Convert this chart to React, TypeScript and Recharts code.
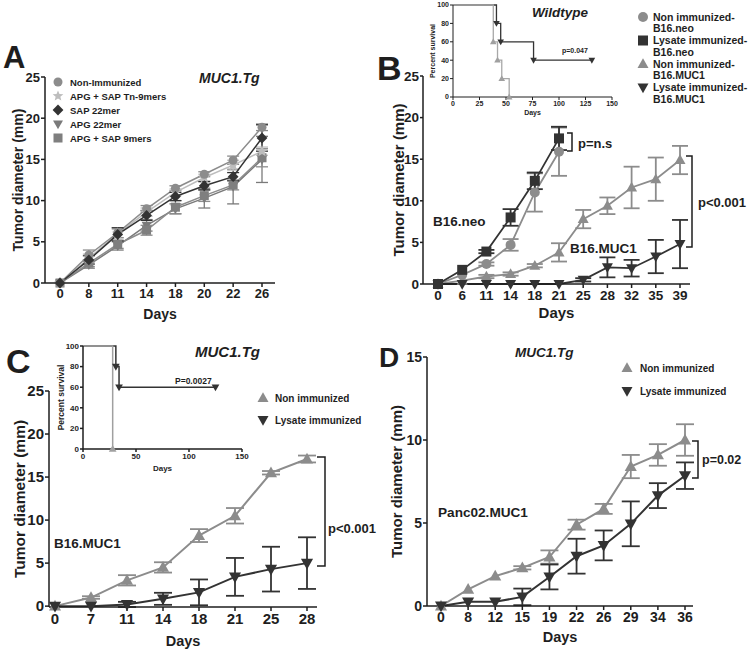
import React from "react";
import { LineChart, Line, XAxis, YAxis, ErrorBar } from "recharts";

const FONT = "'Liberation Sans', Arial, Helvetica, sans-serif";
const INK = "#1e1e1e";
const GRAY = "#8c8c8c";
const MID = "#7a7a7a";
const LIGHT = "#bdbdbd";
const DARK = "#333333";

// ---- Panel A: MUC1.Tg, peptide vaccines
const daysA = ["0", "8", "11", "14", "18", "20", "22", "26"];
const nonImmA = [0, 3.4, 6.1, 9.0, 11.5, 13.2, 14.9, 18.9];
const nonImmAErr = [null, 0.6, 0.6, 0.4, 0.3, 0.3, 0.5, 0.4];
const tn9A = [0, 3.0, 6.0, 8.6, 11.0, 12.8, 14.3, 16.0];
const tn9AErr = [null, 0.5, 0.5, 0.5, 0.4, 0.4, 0.6, 0.5];
const sap22A = [0, 2.8, 5.9, 8.2, 10.5, 11.8, 12.9, 17.6];
const sap22AErr = [null, 0.5, 0.8, 0.6, 0.5, 0.5, 0.5, 1.6];
const apg22A = [0, 2.2, 4.5, 7.0, 9.0, 10.3, 11.7, 15.0];
const apg22AErr = [null, 0.4, 0.5, 0.7, 0.6, 1.2, 2.1, 2.8];
const apg9A = [0, 2.4, 4.7, 6.4, 9.2, 10.6, 11.9, 15.2];
const apg9AErr = [null, 0.4, 0.5, 0.6, 0.8, 0.7, 0.6, 1.1];

// ---- Panel B: wildtype, B16.neo vs B16.MUC1
const daysB = ["0", "6", "11", "14", "18", "21", "25", "28", "32", "35", "39"];
const neoNonB = [0, 1.1, 2.4, 4.7, 11.0, 15.9, null, null, null, null, null];
const neoNonBErr = [null, null, 0.2, 0.7, 2.3, 2.9, null, null, null, null, null];
const neoLysB = [0, 1.7, 3.9, 8.0, 12.4, 17.5, null, null, null, null, null];
const neoLysBErr = [null, null, 0.2, 1.0, 1.0, 1.4, null, null, null, null, null];
const mucNonB = [0, 0.4, 0.9, 1.2, 2.2, 3.8, 7.8, 9.4, 11.6, 12.6, 14.9];
const mucNonBErr = [null, null, 0.2, 0.2, 0.2, 1.1, 1.1, 1.0, 2.5, 2.6, 1.7];
const mucLysB = [0, 0, 0, 0, 0, 0, 0.5, 2.0, 1.9, 3.3, 4.8];
const mucLysBErr = [null, null, null, null, null, null, 0.2, 1.2, 1.0, 2.0, 2.9];

// survival inset B
const survNonBDays = [0, 38, 42, 46, 53];
const survNonB = [100, 60, 40, 20, 0];
const survLysBDays = [0, 41, 45, 76, 131];
const survLysB = [100, 80, 60, 40, 40];

// ---- Panel C: MUC1.Tg, B16.MUC1
const daysC = ["0", "7", "11", "14", "18", "21", "25", "28"];
const nonC = [0, 1.0, 3.0, 4.5, 8.2, 10.5, 15.5, 17.1];
const nonCErr = [null, 0.15, 0.6, 0.6, 0.75, 0.9, 0.2, 0.4];
const lysC = [0, 0, 0.2, 0.85, 1.6, 3.4, 4.3, 5.0];
const lysCErr = [null, null, 0.3, 0.7, 1.5, 2.2, 2.6, 3.0];

// survival inset C
const survNonCDays = [0, 28];
const survNonC = [100, 0];
const survLysCDays = [0, 31, 34, 125];
const survLysC = [100, 80, 60, 60];

// ---- Panel D: MUC1.Tg, Panc02.MUC1
const daysD = ["0", "8", "12", "15", "19", "22", "26", "29", "34", "36"];
const nonD = [0, 1.0, 1.8, 2.3, 2.95, 4.9, 5.85, 8.4, 9.1, 10.0];
const nonDErr = [null, null, null, 0.1, 0.4, 0.3, 0.3, 0.7, 0.65, 0.95];
const lysD = [0, 0.25, 0.25, 0.55, 1.75, 3.0, 3.65, 4.95, 6.65, 7.85];
const lysDErr = [null, null, null, 0.5, 0.75, 1.05, 0.9, 1.35, 0.75, 0.8];

const tableA = daysA.map((day, i) => ({
  day,
  nonImm: nonImmA[i], nonImmErr: nonImmAErr[i],
  tn9: tn9A[i], tn9Err: tn9AErr[i],
  sap22: sap22A[i], sap22Err: sap22AErr[i],
  apg22: apg22A[i], apg22Err: apg22AErr[i],
  apg9: apg9A[i], apg9Err: apg9AErr[i],
}));

const tableB = daysB.map((day, i) => ({
  day,
  neoNon: neoNonB[i], neoNonErr: neoNonBErr[i],
  neoLys: neoLysB[i], neoLysErr: neoLysBErr[i],
  mucNon: mucNonB[i], mucNonErr: mucNonBErr[i],
  mucLys: mucLysB[i], mucLysErr: mucLysBErr[i],
}));

const tableC = daysC.map((day, i) => ({
  day, non: nonC[i], nonErr: nonCErr[i], lys: lysC[i], lysErr: lysCErr[i],
}));

const tableD = daysD.map((day, i) => ({
  day, non: nonD[i], nonErr: nonDErr[i], lys: lysD[i], lysErr: lysDErr[i],
}));

const steps = (xs: number[], ys: number[]) => xs.map((x, i) => ({ x, y: ys[i] }));

function Marker({ shape, cx, cy, size, fill }: any) {
  const r = size / 2;
  if (shape === "circle") return <circle cx={cx} cy={cy} r={r} fill={fill} />;
  if (shape === "square")
    return <rect x={cx - r} y={cy - r} width={size} height={size} fill={fill} />;
  if (shape === "diamond") {
    const d = r * 1.2;
    return <polygon points={`${cx},${cy - d} ${cx + d},${cy} ${cx},${cy + d} ${cx - d},${cy}`} fill={fill} />;
  }
  if (shape === "up")
    return (
      <polygon
        points={`${cx},${cy - r * 1.15} ${cx + r * 1.1},${cy + r * 0.8} ${cx - r * 1.1},${cy + r * 0.8}`}
        fill={fill}
      />
    );
  if (shape === "down")
    return (
      <polygon
        points={`${cx},${cy + r * 1.15} ${cx + r * 1.1},${cy - r * 0.8} ${cx - r * 1.1},${cy - r * 0.8}`}
        fill={fill}
      />
    );
  // star
  const pts: string[] = [];
  for (let k = 0; k < 10; k++) {
    const a = (-90 + k * 36) * (Math.PI / 180);
    const rr = k % 2 === 0 ? r * 1.25 : r * 0.55;
    pts.push(`${cx + rr * Math.cos(a)},${cy + rr * Math.sin(a)}`);
  }
  return <polygon points={pts.join(" ")} fill={fill} />;
}

const dotOf = (shape: string, fill: string, size: number, skipFirst = false) => (props: any) => {
  const { cx, cy, index, value } = props;
  if (cx == null || cy == null || value == null || (skipFirst && index === 0)) {
    return <g key={`d${index}`} />;
  }
  return <Marker key={`d${index}`} shape={shape} cx={cx} cy={cy} size={size} fill={fill} />;
};

const axisLine = { stroke: INK, strokeWidth: 1.5 };
const thinLine = { stroke: INK, strokeWidth: 1 };
const tickStyle = (fs: number) => ({ fill: INK, fontSize: fs, fontWeight: 700, fontFamily: FONT });
const labelStyle = (fs: number) => ({ fill: INK, fontSize: fs, fontWeight: 700, fontFamily: FONT });

const yLabel = (offset: number, fs: number, value = "Tumor diameter (mm)") => ({
  value,
  angle: -90,
  position: "insideLeft" as const,
  offset,
  ...labelStyle(fs),
  style: { textAnchor: "middle" },
});

const xLabel = (offset: number, fs: number) => ({
  value: "Days",
  position: "insideBottom" as const,
  offset,
  ...labelStyle(fs),
});

const box = (left: number, top: number): React.CSSProperties => ({ position: "absolute", left, top });

function PanelA() {
  return (
    <div style={box(0, 60)}>
      <LineChart width={290} height={270} data={tableA} margin={{ top: 17, right: 15, left: 0, bottom: 0 }}>
        <XAxis dataKey="day" interval={0} padding={{ left: 15, right: 13 }} height={47}
          axisLine={axisLine} tickLine={axisLine} tickSize={4} tick={tickStyle(13)} label={xLabel(11, 14)} />
        <YAxis domain={[0, 25]} ticks={[0, 5, 10, 15, 20, 25]} width={45} axisLine={axisLine}
          tickLine={axisLine} tickSize={4} tickMargin={1} tick={tickStyle(13)} label={yLabel(18, 14)} />
        <Line dataKey="apg22" stroke={MID} strokeWidth={1.5} isAnimationActive={false} dot={dotOf("down", MID, 9)}>
          <ErrorBar dataKey="apg22Err" width={6} stroke={MID} strokeWidth={1.3} />
        </Line>
        <Line dataKey="apg9" stroke={GRAY} strokeWidth={1.5} isAnimationActive={false} dot={dotOf("square", "#7f7f7f", 9)}>
          <ErrorBar dataKey="apg9Err" width={6} stroke={GRAY} strokeWidth={1.3} />
        </Line>
        <Line dataKey="tn9" stroke={LIGHT} strokeWidth={1.5} isAnimationActive={false} dot={dotOf("star", LIGHT, 10)}>
          <ErrorBar dataKey="tn9Err" width={6} stroke={LIGHT} strokeWidth={1.3} />
        </Line>
        <Line dataKey="nonImm" stroke={GRAY} strokeWidth={1.5} isAnimationActive={false} dot={dotOf("circle", GRAY, 9)}>
          <ErrorBar dataKey="nonImmErr" width={6} stroke={GRAY} strokeWidth={1.3} />
        </Line>
        <Line dataKey="sap22" stroke={DARK} strokeWidth={1.5} isAnimationActive={false} dot={dotOf("diamond", DARK, 9)}>
          <ErrorBar dataKey="sap22Err" width={6} stroke={DARK} strokeWidth={1.3} />
        </Line>
      </LineChart>
    </div>
  );
}

function PanelB() {
  return (
    <div style={box(375, 60)}>
      <LineChart width={330} height={270} data={tableB} margin={{ top: 16, right: 15, left: 0, bottom: 0 }}>
        <XAxis dataKey="day" interval={0} padding={{ left: 15, right: 10 }} height={46}
          axisLine={axisLine} tickLine={axisLine} tickSize={4} tick={tickStyle(13.5)} label={xLabel(12, 15)} />
        <YAxis domain={[0, 25]} ticks={[0, 5, 10, 15, 20, 25]} width={48} axisLine={axisLine}
          tickLine={axisLine} tickSize={3} tickMargin={1} tick={tickStyle(13.5)} label={yLabel(24, 15)} />
        <Line dataKey="mucNon" stroke={GRAY} strokeWidth={1.8} isAnimationActive={false} dot={dotOf("up", GRAY, 10)}>
          <ErrorBar dataKey="mucNonErr" width={8} stroke={GRAY} strokeWidth={1.8} />
        </Line>
        <Line dataKey="mucLys" stroke={DARK} strokeWidth={1.8} isAnimationActive={false} dot={dotOf("down", DARK, 10)}>
          <ErrorBar dataKey="mucLysErr" width={8} stroke={DARK} strokeWidth={1.8} />
        </Line>
        <Line dataKey="neoNon" stroke={GRAY} strokeWidth={1.8} isAnimationActive={false} dot={dotOf("circle", GRAY, 10)}>
          <ErrorBar dataKey="neoNonErr" width={8} stroke={GRAY} strokeWidth={1.8} />
        </Line>
        <Line dataKey="neoLys" stroke={DARK} strokeWidth={1.8} isAnimationActive={false} dot={dotOf("square", DARK, 10)}>
          <ErrorBar dataKey="neoLysErr" width={8} stroke={DARK} strokeWidth={1.8} />
        </Line>
      </LineChart>
    </div>
  );
}

function SurvivalB() {
  return (
    <div style={box(420, 0)}>
      <LineChart width={200} height={120} margin={{ top: 5, right: 8, left: 0, bottom: 0 }}>
        <XAxis dataKey="x" type="number" domain={[0, 150]} ticks={[0, 25, 50, 75, 100, 125, 150]} height={23}
          axisLine={thinLine} tickLine={thinLine} tickSize={3} tickMargin={1} tick={tickStyle(7)}
          label={{ value: "Days", position: "insideBottom", offset: 5, ...labelStyle(7) }} />
        <YAxis domain={[0, 100]} ticks={[0, 20, 40, 60, 80, 100]} width={33} axisLine={thinLine}
          tickLine={thinLine} tickSize={3} tickMargin={1} tick={tickStyle(7)}
          label={yLabel(13, 7, "Percent survival")} />
        <Line data={steps(survLysBDays, survLysB)} dataKey="y" type="stepAfter" stroke={DARK} strokeWidth={1.3}
          isAnimationActive={false} dot={dotOf("down", DARK, 6, true)} />
        <Line data={steps(survNonBDays, survNonB)} dataKey="y" type="stepAfter" stroke="#a8a8a8" strokeWidth={1.3}
          isAnimationActive={false} dot={dotOf("up", "#a0a0a0", 6, true)} />
      </LineChart>
    </div>
  );
}

function PanelC() {
  return (
    <div style={box(0, 380)}>
      <LineChart width={330} height={270} data={tableC} margin={{ top: 11, right: 13, left: 0, bottom: 0 }}>
        <XAxis dataKey="day" interval={0} padding={{ left: 6, right: 10 }} height={43}
          axisLine={axisLine} tickLine={axisLine} tickSize={4} tick={tickStyle(15)} label={xLabel(4, 14.5)} />
        <YAxis domain={[0, 25]} ticks={[0, 5, 10, 15, 20, 25]} width={49} axisLine={axisLine}
          tickLine={axisLine} tickSize={4} tickMargin={1} tick={tickStyle(15)} label={yLabel(19, 15.5)} />
        <Line dataKey="non" stroke={GRAY} strokeWidth={2} isAnimationActive={false} dot={dotOf("up", GRAY, 11)}>
          <ErrorBar dataKey="nonErr" width={9} stroke={GRAY} strokeWidth={1.8} />
        </Line>
        <Line dataKey="lys" stroke={DARK} strokeWidth={2} isAnimationActive={false} dot={dotOf("down", DARK, 11)}>
          <ErrorBar dataKey="lysErr" width={9} stroke={DARK} strokeWidth={1.8} />
        </Line>
      </LineChart>
    </div>
  );
}

function SurvivalC() {
  return (
    <div style={box(50, 340)}>
      <LineChart width={200} height={135} margin={{ top: 6, right: 8, left: 0, bottom: 0 }}>
        <XAxis dataKey="x" type="number" domain={[0, 150]} ticks={[0, 50, 100, 150]} height={26}
          axisLine={axisLine} tickLine={axisLine} tickSize={3} tickMargin={1} tick={tickStyle(8)}
          label={{ value: "Days", position: "insideBottom", offset: 4, ...labelStyle(8) }} />
        <YAxis domain={[0, 100]} ticks={[0, 20, 40, 60, 80, 100]} width={33} axisLine={axisLine}
          tickLine={axisLine} tickSize={3} tickMargin={1} tick={tickStyle(8)}
          label={yLabel(11, 8.5, "Percent survival")} />
        <Line data={steps(survLysCDays, survLysC)} dataKey="y" type="stepAfter" stroke={DARK} strokeWidth={1.5}
          isAnimationActive={false} dot={dotOf("down", DARK, 7, true)} />
        <Line data={steps(survNonCDays, survNonC)} dataKey="y" type="stepAfter" stroke="#a0a0a0" strokeWidth={1.5}
          isAnimationActive={false} dot={dotOf("up", "#a0a0a0", 7, true)} />
      </LineChart>
    </div>
  );
}

function PanelD() {
  return (
    <div style={box(375, 345)}>
      <LineChart width={330} height={305} data={tableD} margin={{ top: 12, right: 12, left: 0, bottom: 0 }}>
        <XAxis dataKey="day" interval={0} padding={{ left: 14, right: 8 }} height={44}
          axisLine={axisLine} tickLine={axisLine} tickSize={4} tick={tickStyle(14)} label={xLabel(8, 14.5)} />
        <YAxis domain={[0, 15]} ticks={[0, 5, 10, 15]} width={52} axisLine={axisLine}
          tickLine={axisLine} tickSize={4} tickMargin={1} tick={tickStyle(14)} label={yLabel(22, 15)} />
        <Line dataKey="non" stroke={GRAY} strokeWidth={2} isAnimationActive={false} dot={dotOf("up", GRAY, 11)}>
          <ErrorBar dataKey="nonErr" width={9} stroke={GRAY} strokeWidth={1.8} />
        </Line>
        <Line dataKey="lys" stroke={DARK} strokeWidth={2} isAnimationActive={false} dot={dotOf("down", DARK, 11)}>
          <ErrorBar dataKey="lysErr" width={9} stroke={DARK} strokeWidth={1.8} />
        </Line>
      </LineChart>
    </div>
  );
}

const legendA = [
  { label: "Non-Immunized", shape: "circle", fill: GRAY },
  { label: "APG + SAP Tn-9mers", shape: "star", fill: LIGHT },
  { label: "SAP 22mer", shape: "diamond", fill: DARK },
  { label: "APG 22mer", shape: "down", fill: MID },
  { label: "APG + SAP 9mers", shape: "square", fill: "#7f7f7f" },
];

const legendB = [
  { lines: ["Non immunized-", "B16.neo"], shape: "circle", fill: GRAY },
  { lines: ["Lysate immunized-", "B16.neo"], shape: "square", fill: DARK },
  { lines: ["Non immunized-", "B16.MUC1"], shape: "up", fill: GRAY },
  { lines: ["Lysate immunized-", "B16.MUC1"], shape: "down", fill: DARK },
];

const legendCD = [
  { label: "Non immunized", shape: "up", fill: GRAY },
  { label: "Lysate immunized", shape: "down", fill: DARK },
];

function T({ x, y, size, children, italic = false }: any) {
  return (
    <text x={x} y={y} fontSize={size} fontWeight={700} fontStyle={italic ? "italic" : "normal"}
      fontFamily={FONT} fill={INK}>
      {children}
    </text>
  );
}

function Overlay() {
  const br = { fill: "none", stroke: INK, strokeWidth: 1.5 };
  return (
    <svg width={749} height={650} style={{ position: "absolute", left: 0, top: 0, pointerEvents: "none" }}>
      {/* panel letters */}
      <T x={3} y={68} size={31}>A</T>
      <T x={377} y={80} size={34}>B</T>
      <T x={6} y={373} size={34}>C</T>
      <T x={379} y={367} size={28}>D</T>

      {/* titles */}
      <T x={199} y={83} size={14} italic>MUC1.Tg</T>
      <T x={532} y={17} size={13.5} italic>Wildtype</T>
      <T x={195} y={357} size={15} italic>MUC1.Tg</T>
      <T x={515} y={357} size={13.5} italic>MUC1.Tg</T>

      {/* tumour labels */}
      <T x={433} y={226} size={13.5}>B16.neo</T>
      <T x={570} y={253} size={13.5}>B16.MUC1</T>
      <T x={54} y={548} size={13.5}>B16.MUC1</T>
      <T x={438} y={517} size={13.6}>Panc02.MUC1</T>

      {/* significance brackets */}
      <path d="M567,133 H572 V151 H567" {...br} />
      <T x={578} y={148} size={13}>p=n.s</T>
      <path d="M686,156 H692 V247 H686" {...br} />
      <T x={698} y={207} size={13}>p&lt;0.001</T>
      <path d="M317,457 H325 V566 H317" {...br} />
      <T x={328} y={533} size={13}>p&lt;0.001</T>
      <path d="M692,441 H698 V478 H692" {...br} />
      <T x={702} y={464} size={12.5}>p=0.02</T>
      <T x={562} y={53} size={7}>p=0.047</T>
      <T x={175} y={384} size={8.5}>P=0.0027</T>

      {/* legend A */}
      {legendA.map((e, i) => (
        <g key={e.label}>
          <Marker shape={e.shape} cx={58} cy={82 + i * 14} size={9} fill={e.fill} />
          <T x={70} y={85.5 + i * 14} size={9.5}>{e.label}</T>
        </g>
      ))}

      {/* legend B */}
      {legendB.map((e, i) => (
        <g key={i}>
          <Marker shape={e.shape} cx={643} cy={17 + i * 23.5} size={10} fill={e.fill} />
          <T x={653} y={20.7 + i * 23.5} size={10.5}>{e.lines[0]}</T>
          <T x={653} y={32 + i * 23.5} size={10.5}>{e.lines[1]}</T>
        </g>
      ))}

      {/* legends C and D */}
      {legendCD.map((e, i) => (
        <g key={`c${i}`}>
          <Marker shape={e.shape} cx={263} cy={398 + i * 22} size={10} fill={e.fill} />
          <T x={275} y={401.5 + i * 22} size={10}>{e.label}</T>
        </g>
      ))}
      {legendCD.map((e, i) => (
        <g key={`d${i}`}>
          <Marker shape={e.shape} cx={627} cy={368 + i * 23} size={10} fill={e.fill} />
          <T x={640} y={371.5 + i * 23} size={10}>{e.label}</T>
        </g>
      ))}
    </svg>
  );
}

export default function App() {
  return (
    <div style={{ position: "absolute", left: 0, top: 0, width: 749, height: 650, background: "#fff", fontFamily: FONT }}>
      <PanelA />
      <PanelB />
      <SurvivalB />
      <PanelC />
      <SurvivalC />
      <PanelD />
      <Overlay />
    </div>
  );
}
